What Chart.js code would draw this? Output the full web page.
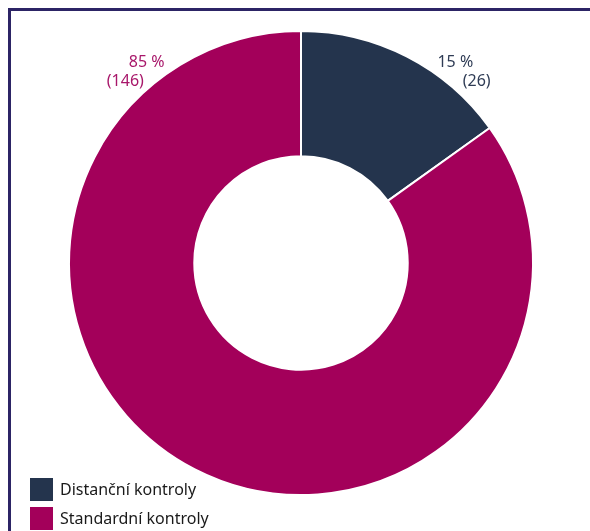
<!DOCTYPE html>
<html>
<head>
<meta charset="utf-8">
<script src="https://cdn.jsdelivr.net/npm/chart.js@4.4.0/dist/chart.umd.min.js"></script>
<style>
  html, body { margin: 0; padding: 0; background: #ffffff; }
  #wrap { width: 590px; height: 531px; position: relative; }
</style>
</head>
<body>
<div id="wrap"><canvas id="c" width="590" height="531"></canvas></div>
<script>
const categories = ['Distanční kontroly', 'Standardní kontroly'];
const counts = [26, 146];
const percentLabels = ['15 %', '85 %'];
const sliceColors = ['#24344d', '#a3005a'];
const labelColors = ['#2f3c55', '#a8176a'];

const FONT = '"Noto Sans", "Open Sans", sans-serif';

// Frame lines along the left and top edges
const framePlugin = {
  id: 'frame',
  beforeDraw(chart) {
    const ctx = chart.ctx;
    ctx.save();
    ctx.strokeStyle = '#2c2465';
    ctx.lineWidth = 3;
    ctx.beginPath();
    ctx.moveTo(9.5, chart.height);
    ctx.lineTo(9.5, 9.5);
    ctx.lineTo(chart.width, 9.5);
    ctx.stroke();
    ctx.restore();
  }
};

// Percent + count labels set outside the ring, two stepped lines per slice
const sliceLabels = {
  id: 'sliceLabels',
  afterDatasetsDraw(chart) {
    const ctx = chart.ctx;
    const meta = chart.getDatasetMeta(0);
    ctx.save();
    ctx.font = '16px ' + FONT;
    ctx.textAlign = 'center';
    ctx.textBaseline = 'middle';
    meta.data.forEach((arc, i) => {
      const mid = (arc.startAngle + arc.endAngle) / 2 + Math.PI / 2;
      const side = Math.sin(mid) >= 0 ? 1 : -1;
      const r = arc.outerRadius * 1.09;
      const lines = [
        { text: percentLabels[i], ang: 37.6 },
        { text: '(' + counts[i] + ')', ang: 44.0 }
      ];
      ctx.fillStyle = labelColors[i];
      lines.forEach(l => {
        const a = side * l.ang * Math.PI / 180;
        ctx.fillText(l.text, arc.x + r * Math.sin(a), arc.y - r * Math.cos(a));
      });
    });
    ctx.restore();
  }
};

// Legend in the lower-left corner
const cornerLegend = {
  id: 'cornerLegend',
  afterDraw(chart) {
    const ctx = chart.ctx;
    ctx.save();
    ctx.font = '16px ' + FONT;
    ctx.textBaseline = 'middle';
    ctx.textAlign = 'left';
    categories.forEach((name, i) => {
      const y = 478 + i * 29;
      ctx.fillStyle = sliceColors[i];
      ctx.fillRect(30, y, 23, 23);
      ctx.fillStyle = '#1a1a1a';
      ctx.fillText(name, 60, y + 12);
    });
    ctx.restore();
  }
};

new Chart(document.getElementById('c'), {
  type: 'doughnut',
  data: {
    labels: categories,
    datasets: [{
      data: counts,
      backgroundColor: sliceColors,
      borderColor: '#ffffff',
      borderWidth: 2,
      hoverOffset: 0
    }]
  },
  options: {
    responsive: false,
    animation: false,
    cutout: '46%',
    layout: { padding: { left: 68, right: 56, top: 30, bottom: 35 } },
    plugins: {
      legend: { display: false },
      tooltip: { enabled: false }
    }
  },
  plugins: [framePlugin, sliceLabels, cornerLegend]
});
</script>
</body>
</html>
